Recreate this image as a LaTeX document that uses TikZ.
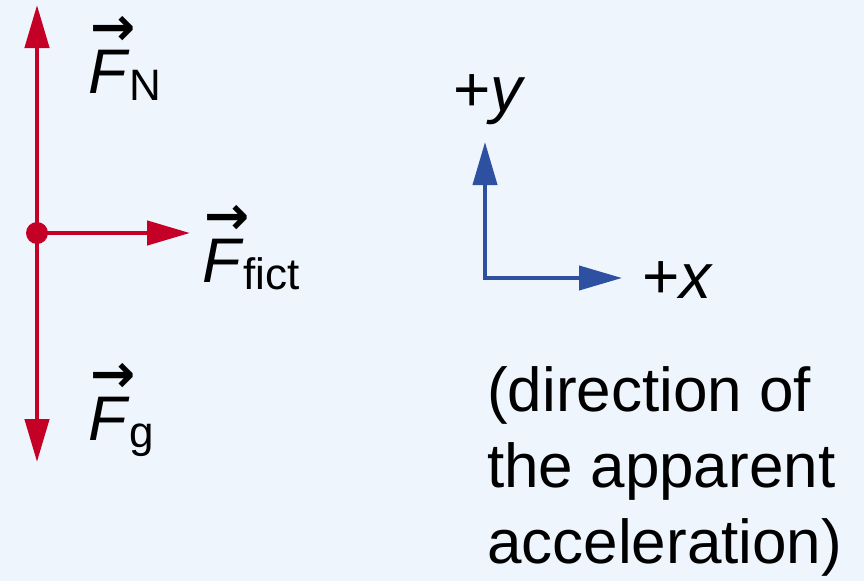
\documentclass[tikz,border=0pt]{standalone}
\usepackage{fontspec}
\setmainfont{Liberation Sans}
\newfontfamily\arrowfont{DejaVu Sans}
\usetikzlibrary{arrows.meta}
\definecolor{bgblue}{RGB}{238,245,252}
\definecolor{forcered}{RGB}{197,0,38}
\definecolor{axisblue}{RGB}{46,80,160}
\tikzset{
    force/.style={draw=forcered, line width=4.5pt, -{Triangle[length=43pt,width=24pt]}},
    axis/.style={draw=axisblue, line width=4pt, {Triangle[length=43pt,width=24pt]}-{Triangle[length=43pt,width=24pt]}},
    forcelabel/.style={anchor=base west, inner sep=0pt, font=\fontsize{63}{63}\selectfont},
    axislabel/.style={anchor=base west, inner sep=0pt, font=\fontsize{64}{64}\selectfont},
    note/.style={anchor=base west, inner sep=0pt, align=left, font=\fontsize{62}{76}\selectfont}
}
% vector F with arrow on top and a subscript
\newcommand{\vecF}[1]{\rlap{\raisebox{48pt}{\kern2pt\arrowfont\bfseries\fontsize{54}{54}\selectfont →}}\textit{F}\raisebox{-7pt}{\fontsize{44}{44}\selectfont #1}}

\begin{document}
\begin{tikzpicture}[x=1pt, y=-1pt]
    \fill[bgblue] (0,0) rectangle (864,581);
    \useasboundingbox (0,0) rectangle (864,581);

    % Free-body diagram
    \coordinate (body) at (37,233);
    \coordinate (tipN) at (37,5);
    \coordinate (tipG) at (37,462);
    \coordinate (tipFict) at (190,233);
    \draw[force] (body) -- (tipN);
    \draw[force] (body) -- (tipG);
    \draw[force] (body) -- (tipFict);
    \fill[forcered] (body) circle[radius=11pt];

    \node (labelN) [forcelabel] at (88,93) {\vecF{N}};
    \node (labelFict) [forcelabel] at (202,282) {\vecF{fict}};
    \node (labelG) [forcelabel] at (88,440) {\vecF{g}};

    % Coordinate axes
    \coordinate (origin) at (485,278);
    \coordinate (tipY) at (485,142);
    \coordinate (tipX) at (622,278);
    \draw[axis] (tipY) -- (origin) -- (tipX);

    \node (labelY) [axislabel] at (453,111) {+\textit{y}};
    \node (labelX) [axislabel] at (642,298) {+\textit{x}};

    % Note under the axes
    \node (note) [note] at (487,563) {(direction of\\the apparent\\acceleration)};
\end{tikzpicture}
\end{document}
